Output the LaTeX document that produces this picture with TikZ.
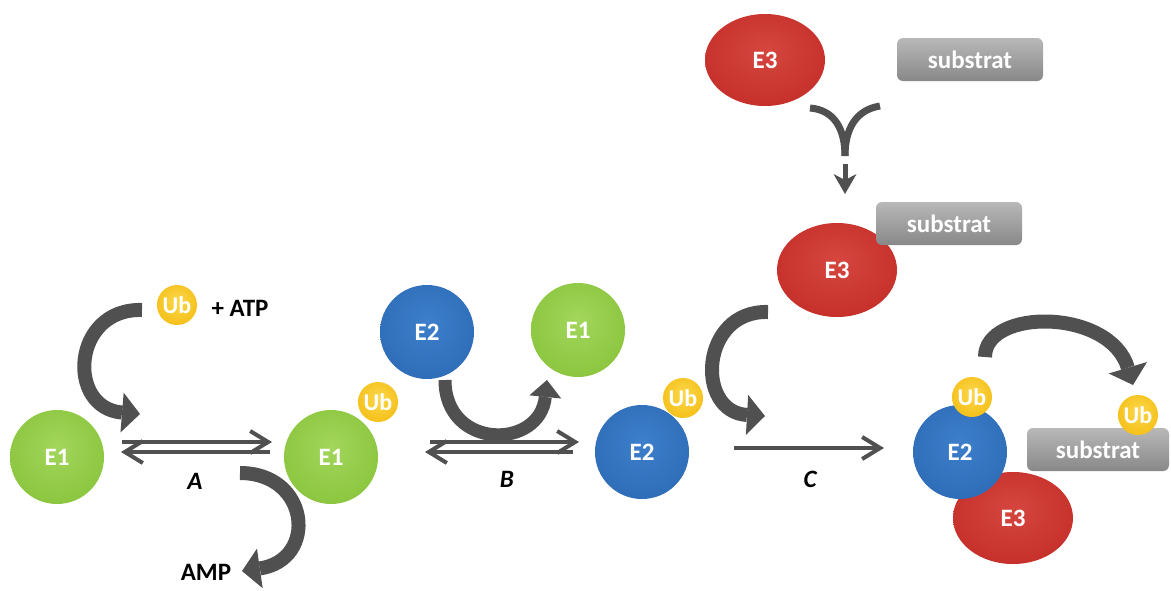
\documentclass[tikz,border=0pt]{standalone}
\usepackage{fontspec}
\setmainfont{Carlito}
\usetikzlibrary{arrows.meta,shapes.geometric}

\definecolor{grn}{HTML}{8CC63F}
\definecolor{grnL}{HTML}{A2D65C}
\definecolor{grnD}{HTML}{6A9E2C}
\definecolor{blu}{HTML}{2F6DB8}
\definecolor{bluL}{HTML}{3D7FCB}
\definecolor{bluD}{HTML}{1F4E8C}
\definecolor{red3}{HTML}{C6302B}
\definecolor{redL}{HTML}{D5463F}
\definecolor{redD}{HTML}{93201C}
\definecolor{ubc}{HTML}{F5C01A}
\definecolor{ubL}{HTML}{FBD84C}
\definecolor{ubD}{HTML}{D9950A}
\definecolor{arr}{HTML}{505050}
\definecolor{boxT}{HTML}{B8B8B8}
\definecolor{boxB}{HTML}{888888}

\pgfdeclareradialshading{grnball}{\pgfpoint{0bp}{6bp}}{color(0bp)=(grnL);color(28bp)=(grn);color(42bp)=(grn);color(50bp)=(grnD)}
\pgfdeclareradialshading{bluball}{\pgfpoint{0bp}{6bp}}{color(0bp)=(bluL);color(28bp)=(blu);color(42bp)=(blu);color(50bp)=(bluD)}
\pgfdeclareradialshading{redball}{\pgfpoint{0bp}{6bp}}{color(0bp)=(redL);color(28bp)=(red3);color(42bp)=(red3);color(50bp)=(redD)}
\pgfdeclareradialshading{ubball}{\pgfpoint{0bp}{6bp}}{color(0bp)=(ubL);color(28bp)=(ubc);color(40bp)=(ubc);color(50bp)=(ubD)}

\tikzset{
  enz/.style={circle, minimum size=94pt, inner sep=0pt, text=white,
    font=\fontsize{25}{27}\selectfont\bfseries},
  eone/.style={enz, shade, shading=grnball},
  etwo/.style={enz, shade, shading=bluball},
  ethree/.style={ellipse, minimum width=120pt, minimum height=92pt, inner sep=0pt,
    shade, shading=redball, text=white, font=\fontsize{25}{27}\selectfont\bfseries},
  ubq/.style={circle, minimum size=40pt, inner sep=0pt, shade, shading=ubball,
    text=white, font=\fontsize{24}{26}\selectfont\bfseries},
  subbox/.style={rectangle, rounded corners=6pt, minimum width=146pt, minimum height=43pt,
    inner sep=0pt, top color=boxT, bottom color=boxB, text=white,
    font=\fontsize{25}{27}\selectfont\bfseries},
  thinarr/.style={draw=arr, line width=4pt, -{Straight Barb[length=18pt,width=22pt]}},
  fatarr/.style={draw=arr, line width=14pt, -{Triangle[length=18pt,width=40pt,line width=0pt]}},
  lbl/.style={text=black, font=\fontsize{25}{27}\selectfont\bfseries},
  ilbl/.style={text=black, font=\fontsize{25}{27}\selectfont\bfseries\itshape}
}

\begin{document}
\begin{tikzpicture}[x=1pt,y=-1pt]
\useasboundingbox (0,0) rectangle (1171,590);
\fill[white] (0,0) rectangle (1171,590);

% ---- step A ----
\node[eone] (e1a) at (57,457) {E1};
\node[eone] (e1b) at (331,457) {E1};
\node[ubq] (ubb) at (378,402) {Ub};
\node[ubq] (ub0) at (177,305) {Ub};
\node[lbl] (atp) at (240,308) {+ ATP};
\node[lbl] (amp) at (206,572) {AMP};
\node[ilbl] (la) at (195,481) {A};

\coordinate (a1) at (122,442); \coordinate (a2) at (272,442);
\coordinate (a3) at (270,452); \coordinate (a4) at (121,452);
\draw[thinarr] (a1) -- (a2);
\draw[thinarr] (a3) -- (a4);

\coordinate (f1s) at (142,310); \coordinate (f1e) at (140,414);
\draw[fatarr] (f1s) .. controls (72,308) and (66,408) .. (f1e);
\coordinate (f2s) at (240,473); \coordinate (f2e) at (242,571);
\draw[fatarr] (f2s) .. controls (310,473) and (318,560) .. (f2e);

% ---- step B ----
\node[etwo] (e2a) at (427,332) {E2};
\node[eone] (e1c) at (578,330) {E1};
\node[etwo] (e2b) at (642,452) {E2};
\node[ubq] (ubc) at (683,398) {Ub};
\node[ilbl] (lb) at (507,479) {B};

\coordinate (b1) at (430,442); \coordinate (b2) at (579,442);
\coordinate (b3) at (573,452); \coordinate (b4) at (425,452);
\draw[thinarr] (b1) -- (b2);
\draw[thinarr] (b3) -- (b4);

\coordinate (f3s) at (445,380); \coordinate (f3e) at (547,380);
\draw[fatarr, line width=13pt, -{Triangle[length=17pt,width=32pt,line width=0pt]}]
  (f3s) .. controls (445,450) and (540,450) .. (f3e);

% ---- step C ----
\node[ethree] (e3a) at (765,60) {E3};
\node[subbox] (s1) at (970,59.5) {substrat};
\node[ethree, minimum height=94pt] (e3b) at (837,270) {E3};
\node[subbox] (s2) at (949,223.5) {substrat};

\coordinate (yl) at (810,108); \coordinate (yr) at (880,106);
\coordinate (yj) at (845,156); \coordinate (yt) at (845,194);
\draw[arr, line width=7pt] (yl) .. controls (835,110) and (845,130) .. (yj);
\draw[arr, line width=7pt] (yr) .. controls (855,110) and (845,130) .. (yj);
\draw[arr, line width=5pt, -{Stealth[length=20pt,width=23pt,inset=6pt,line width=0pt]}]
  ([yshift=-8pt]yj) -- (yt);

\coordinate (f4s) at (768,312); \coordinate (f4e) at (765,416);
\draw[fatarr] (f4s) .. controls (700,310) and (695,412) .. (f4e);

\coordinate (c1) at (734,448); \coordinate (c2) at (884,448);
\draw[thinarr] (c1) -- (c2);
\node[ilbl] (lc) at (810,479) {C};

% ---- final complex ----
\node[ethree] (e3c) at (1013,518) {E3};
\node[etwo] (e2c) at (960,452) {E2};
\node[ubq] (ubd) at (972,397) {Ub};
\node[subbox, minimum width=142pt] (s3) at (1098,449.5) {substrat};
\node[ubq] (ube) at (1138,415) {Ub};

\coordinate (f5s) at (985,357); \coordinate (f5e) at (1133,385);
\draw[fatarr] (f5s) .. controls (985,308) and (1110,308) .. (f5e);
\end{tikzpicture}
\end{document}
